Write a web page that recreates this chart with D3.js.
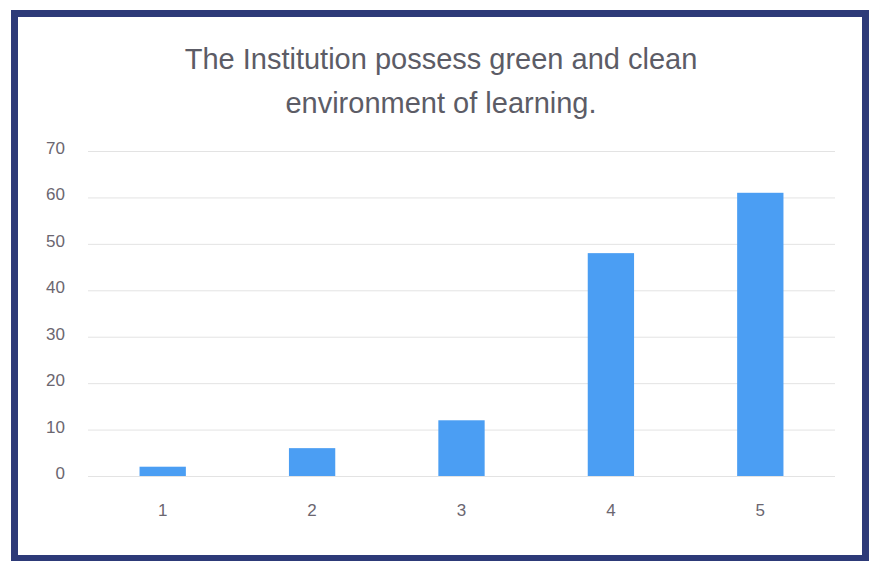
<!DOCTYPE html>
<html>
<head>
<meta charset="utf-8">
<script src="https://cdn.jsdelivr.net/npm/d3@7"></script>
<style>
  html, body { margin: 0; padding: 0; background: #fff; }
  svg { display: block; }
</style>
</head>
<body>
<div id="app"></div>
<script>
// data
const categories = ["1", "2", "3", "4", "5"];
const counts = [2, 6, 12, 48, 61];
const yTicks = [0, 10, 20, 30, 40, 50, 60, 70];
const titleLines = ["The Institution possess green and clean", "environment of learning."];

const width = 872, height = 561;
const margin = { top: 151, right: 37, bottom: 85, left: 88 };
const labelFont = "'Liberation Sans', Arial, sans-serif";

const svg = d3.select("#app").append("svg")
  .attr("width", width)
  .attr("height", height);

// navy frame round the chart
svg.append("rect")
  .attr("x", 14.5).attr("y", 13.5)
  .attr("width", 851).attr("height", 545)
  .attr("fill", "#fff")
  .attr("stroke", "#2d3a78")
  .attr("stroke-width", 7);

const x = d3.scaleBand()
  .domain(categories)
  .range([margin.left, width - margin.right])
  .paddingInner(0.69)
  .paddingOuter(0.345);

const y = d3.scaleLinear()
  .domain([0, 70])
  .range([height - margin.bottom, margin.top]);

// gridlines
svg.append("g")
  .selectAll("line")
  .data(yTicks)
  .join("line")
  .attr("x1", margin.left)
  .attr("x2", width - margin.right)
  .attr("y1", d => y(d) + 0.5)
  .attr("y2", d => y(d) + 0.5)
  .attr("stroke", "#e3e3e3")
  .attr("stroke-width", 1);

// y axis labels (sit a touch above their gridlines, as in the scan)
const yAxis = svg.append("g")
  .attr("transform", `translate(${margin.left}, -3)`)
  .call(d3.axisLeft(y).tickValues(yTicks).tickSize(0).tickPadding(23));
yAxis.select(".domain").remove();
yAxis.selectAll("text")
  .attr("fill", "#6b6670")
  .style("font-family", labelFont)
  .style("font-size", "17px");

// x axis labels
const xAxis = svg.append("g")
  .attr("transform", `translate(0, ${height - margin.bottom})`)
  .call(d3.axisBottom(x).tickSize(0).tickPadding(28));
xAxis.select(".domain").remove();
xAxis.selectAll("text")
  .attr("fill", "#6b6670")
  .style("font-family", labelFont)
  .style("font-size", "17px");

// bars
svg.append("g")
  .selectAll("rect")
  .data(counts)
  .join("rect")
  .attr("x", (d, i) => x(categories[i]))
  .attr("y", d => y(d))
  .attr("width", x.bandwidth())
  .attr("height", d => y(0) - y(d))
  .attr("fill", "#4b9ef3");

// title, two lines
svg.append("g")
  .selectAll("text")
  .data(titleLines)
  .join("text")
  .attr("x", 441)
  .attr("y", (d, i) => 69 + i * 44)
  .attr("text-anchor", "middle")
  .attr("fill", "#5c5c66")
  .style("font-family", labelFont)
  .style("font-size", "29px")
  .text(d => d);
</script>
</body>
</html>
